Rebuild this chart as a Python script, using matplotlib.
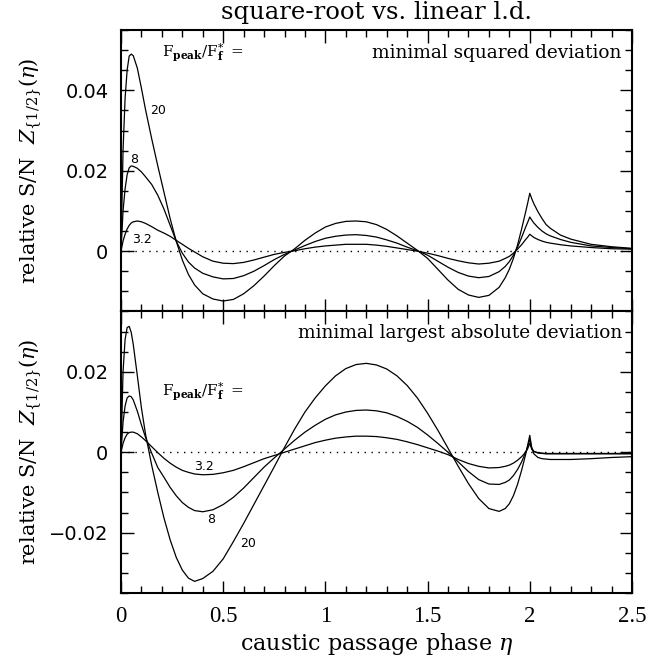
import matplotlib
matplotlib.use("Agg")
import matplotlib.pyplot as plt
import matplotlib.ticker as ticker

plt.rcParams["mathtext.fontset"] = "dejavuserif"

# caustic passage phase (shared grid for all curves)
eta = [0, .01, .02, .03, .04, .05, .06, .08, .10, .12,
       .15, .18, .21, .24, .27, .30, .33, .36, .40,
       .45, .50, .55, .60, .65, .70, .75, .80, .85, .90, .95,
       1.00, 1.05, 1.10, 1.15, 1.20, 1.25, 1.30, 1.35, 1.40, 1.45,
       1.50, 1.55, 1.60, 1.65, 1.70, 1.75, 1.80,
       1.85, 1.88, 1.90, 1.92, 1.94, 1.96, 1.98, 1.99, 2.00,
       2.01, 2.02, 2.04, 2.06, 2.08, 2.10, 2.15, 2.20, 2.30, 2.40, 2.50]

# top panel: minimal squared deviation
sq20 = [0, .0250, .0380, .0450, .0485, .0490, .0486, .0455, .0405, .0352,
        .0280, .0212, .0147, .0082, .0025, -.0022, -.0058, -.0084, -.0106,
        -.0119, -.0124, -.0120, -.0106, -.0086, -.0062, -.0036, -.0012, .0006, .0027, .0045,
        .0060, .0069, .0074, .0075, .0073, .0066, .0054, .0038, .0020, .0002,
        -.0018, -.0045, -.0072, -.0095, -.0109, -.0115, -.0110,
        -.0090, -.0066, -.0045, -.0018, .0015, .0055, .0098, .0120, .0144,
        .0130, .0118, .0098, .0081, .0066, .0057, .0040, .0030, .0017, .0011, .0007]
sq8 = [0, .0100, .0155, .0190, .0207, .0212, .0211, .0206, .0197, .0185,
       .0166, .0139, .0105, .0065, .0025, -.0005, -.0027, -.0042, -.0055,
       -.0064, -.0069, -.0068, -.0061, -.0050, -.0036, -.0021, -.0008, .0003, .0014, .0024,
       .0032, .0037, .0040, .0041, .0039, .0035, .0028, .0020, .0010, .0001,
       -.0010, -.0025, -.0040, -.0053, -.0062, -.0066, -.0063,
       -.0051, -.0038, -.0026, -.0010, .0010, .0034, .0060, .0072, .0085,
       .0077, .0070, .0059, .0050, .0043, .0038, .0029, .0022, .0013, .0009, .0006]
sq3 = [0, .0025, .0042, .0055, .0064, .0070, .0073, .0075, .0073, .0069,
       .0061, .0052, .0045, .0037, .0027, .0017, .0007, -.0002, -.0014,
       -.0025, -.0030, -.0031, -.0028, -.0022, -.0015, -.0008, -.0003, .0001, .0006, .0010,
       .0013, .0015, .0017, .0017, .0017, .0015, .0012, .0008, .0004, .0000,
       -.0005, -.0011, -.0018, -.0024, -.0029, -.0032, -.0030,
       -.0025, -.0018, -.0013, -.0005, .0005, .0016, .0029, .0035, .0042,
       .0038, .0034, .0029, .0025, .0022, .0020, .0016, .0013, .0009, .0006, .0005]

# bottom panel: minimal largest absolute deviation
ld20 = [0, .0200, .0280, .0310, .0313, .0298, .0268, .0190, .0110, .0045,
        -.0032, -.0100, -.0163, -.0217, -.0261, -.0293, -.0313, -.0321, -.0314,
        -.0296, -.0265, -.0222, -.0177, -.0130, -.0083, -.0036, .0012, .0058, .0100, .0135,
        .0165, .0190, .0208, .0218, .0221, .0217, .0207, .0190, .0166, .0135,
        .0097, .0055, .0010, -.0035, -.0078, -.0115, -.0140,
        -.0147, -.0140, -.0128, -.0108, -.0080, -.0045, -.0005, .0018, .0042,
        .0010, -.0004, -.0013, -.0016, -.0017, -.0018, -.0018, -.0018, -.0016, -.0013, -.0011]
ld8 = [0, .0075, .0115, .0135, .0140, .0138, .0130, .0102, .0068, .0037,
       -.0002, -.0038, -.0062, -.0087, -.0108, -.0125, -.0137, -.0145, -.0148,
       -.0143, -.0130, -.0112, -.0089, -.0063, -.0037, -.0014, .0008, .0030, .0050, .0067,
       .0082, .0093, .0100, .0104, .0105, .0103, .0098, .0089, .0077, .0062,
       .0043, .0022, .0000, -.0024, -.0048, -.0068, -.0079,
       -.0080, -.0075, -.0069, -.0058, -.0043, -.0024, .0000, .0015, .0032,
       .0010, .0002, -.0002, -.0003, -.0004, -.0004, -.0004, -.0004, -.0004, -.0004, -.0004]
ld3 = [0, .0022, .0036, .0045, .0049, .0050, .0050, .0046, .0038, .0029,
       .0014, -.0001, -.0015, -.0027, -.0037, -.0045, -.0050, -.0054, -.0056,
       -.0055, -.0051, -.0045, -.0036, -.0026, -.0016, -.0008, .0000, .0008, .0016, .0024,
       .0030, .0035, .0038, .0040, .0040, .0039, .0036, .0032, .0026, .0019,
       .0011, .0003, -.0006, -.0018, -.0028, -.0035, -.0039,
       -.0038, -.0035, -.0032, -.0027, -.0020, -.0011, .0000, .0009, .0022,
       .0007, .0002, -.0001, -.0002, -.0003, -.0003, -.0003, -.0003, -.0003, -.0003, -.0003]

ratio_label = r"$\mathrm{F}_{\mathbf{peak}}/\mathrm{F}^{*}_{\mathbf{f}}\ =$"
ylab = r"relative S/N  $Z_{\{1/2\}}(\eta)$"


def yfmt(v, pos):
    if abs(v) < 1e-9:
        return "0"
    return ("%.2f" % v).replace("-", "\u2212")


def style_axes(ax, ylim):
    ax.set_xlim(0, 2.5)
    ax.set_ylim(*ylim)
    ax.axhline(0, color="black", lw=1.0, ls=(0, (1, 4)))
    ax.xaxis.set_major_locator(ticker.MultipleLocator(0.5))
    ax.xaxis.set_minor_locator(ticker.MultipleLocator(0.1))
    ax.yaxis.set_major_locator(ticker.MultipleLocator(0.02))
    ax.yaxis.set_minor_locator(ticker.MultipleLocator(0.005))
    ax.yaxis.set_major_formatter(ticker.FuncFormatter(yfmt))
    ax.xaxis.set_major_formatter(ticker.FuncFormatter(lambda v, pos: "%g" % v))
    ax.tick_params(which="both", direction="in", top=True, right=True, width=1.0)
    ax.tick_params(which="major", length=9, pad=9)
    ax.tick_params(which="minor", length=5)
    for s in ax.spines.values():
        s.set_linewidth(1.5)
    for lab in ax.get_yticklabels():
        lab.set_fontfamily("DejaVu Sans")
        lab.set_fontsize(14)
    for lab in ax.get_xticklabels():
        lab.set_fontfamily("Liberation Serif")
        lab.set_fontsize(16.5)
    ax.set_ylabel(ylab, fontsize=15, family="DejaVu Serif")
    ax.yaxis.set_label_coords(-0.150, 0.5)


fig = plt.figure(figsize=(6.63, 6.56), dpi=100)
ax1 = fig.add_axes([0.1825, 0.5252, 0.7707, 0.4291])
ax2 = fig.add_axes([0.1825, 0.0960, 0.7707, 0.4292])

for y in (sq20, sq8, sq3):
    ax1.plot(eta, y, color="black", lw=0.9)
for y in (ld20, ld8, ld3):
    ax2.plot(eta, y, color="black", lw=0.9)

style_axes(ax1, (-0.015, 0.055))
style_axes(ax2, (-0.035, 0.035))
ax1.tick_params(labelbottom=False)

# curve labels
lab_kw = dict(fontsize=9, family="DejaVu Sans", ha="center", va="center")
ax1.text(0.183, 0.0349, "20", **lab_kw)
ax1.text(0.064, 0.0229, "8", **lab_kw)
ax1.text(0.101, 0.0030, "3.2", **lab_kw)
ax2.text(0.405, -0.0036, "3.2", **lab_kw)
ax2.text(0.440, -0.0168, "8", **lab_kw)
ax2.text(0.622, -0.0228, "20", **lab_kw)

ax1.text(0.199, 0.0494, ratio_label, fontsize=11, ha="left", va="center")
ax2.text(0.199, 0.0150, ratio_label, fontsize=11, ha="left", va="center")

ax1.text(0.98, 0.918, "minimal squared deviation", transform=ax1.transAxes,
         fontsize=13.3, family="DejaVu Serif", ha="right", va="center")
ax2.text(0.98, 0.922, "minimal largest absolute deviation", transform=ax2.transAxes,
         fontsize=13.3, family="DejaVu Serif", ha="right", va="center")

ax2.set_xlabel(r"caustic passage phase $\eta$", fontsize=16, family="DejaVu Serif",
               labelpad=3)
fig.text(0.568, 1 - 13 / 656, "square-root vs. linear l.d.", fontsize=17.5,
         family="DejaVu Serif", ha="center", va="center")

fig.savefig("out.png", dpi=100)
